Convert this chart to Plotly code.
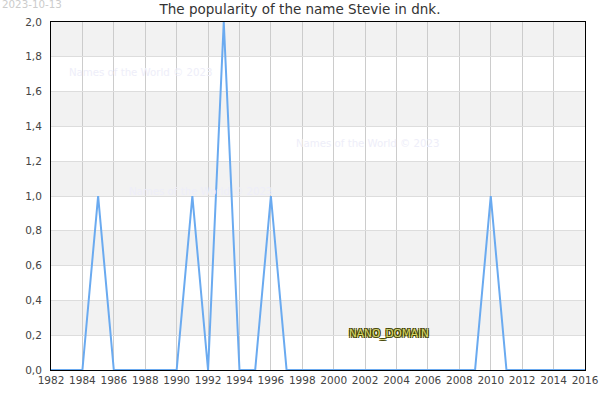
import plotly.graph_objects as go

years = list(range(1982, 2017))
peak_years = [1985, 1991, 1993, 1996, 2010]
peak_values = [1, 1, 2, 1, 1]
peaks = dict(zip(peak_years, peak_values))
counts = [peaks.get(y, 0) for y in years]

title = "The popularity of the name Stevie in dnk."
date_label = "2023-10-13"
watermark = "Names of the World © 2023"
band_lows = [0.2, 0.6, 1.0, 1.4, 1.8]
xtick_years = list(range(1982, 2017, 2))
ytick_values = [i * 0.2 for i in range(11)]

L, R, T, B = 51, 15, 22, 30
PW, PH = 600 - L - R, 400 - T - B

fig = go.Figure()
fig.add_trace(go.Scatter(x=years, y=counts, mode="lines",
                         line=dict(color="#6aaaf0", width=2), hoverinfo="skip"))

shapes = []
for lo in band_lows:
    shapes.append(dict(type="rect", xref="paper", yref="y", x0=0, x1=1, y0=lo, y1=lo + 0.2,
                       fillcolor="#f2f2f2", line=dict(width=0), layer="below"))

wm_font = dict(size=10.2, color="#eeeef9", family="DejaVu Sans")
annotations = [
    dict(text=date_label, xref="paper", yref="paper", x=-L / PW, y=1 + (T - 4) / PH,
         xanchor="left", yanchor="middle", showarrow=False,
         font=dict(size=10.3, color="#cccccc", family="DejaVu Sans")),
    dict(text=watermark, x=1983.0, y=1.71, xanchor="left", yanchor="middle", showarrow=False, font=wm_font),
    dict(text=watermark, x=1997.5, y=1.3, xanchor="left", yanchor="middle", showarrow=False, font=wm_font),
    dict(text=watermark, x=1986.85, y=1.025, xanchor="left", yanchor="middle", showarrow=False, font=wm_font),
    dict(text="NANO_DOMAIN", x=2000.85, y=0.21, xanchor="left", yanchor="middle", showarrow=False,
         font=dict(size=10.5, color="#d6d66a", family="DejaVu Sans",
                   shadow="1px 1px 0 #444400, -1px -1px 0 #444400, 1px -1px 0 #444400, -1px 1px 0 #444400")),
]

fig.update_layout(
    width=600, height=400,
    margin=dict(l=L, r=R, t=T, b=B, autoexpand=False),
    paper_bgcolor="white", plot_bgcolor="white",
    separators=", ",
    showlegend=False,
    title=dict(text=title, x=0.5, xanchor="center", xref="container", yref="container",
               y=1 - 9.5 / 400, yanchor="middle", automargin=False,
               font=dict(size=13.5, color="#333333", family="DejaVu Sans")),
    font=dict(family="DejaVu Sans", size=10.5, color="#444444"),
    xaxis=dict(range=[1982, 2016], tickmode="array", tickvals=xtick_years,
               ticktext=[str(y) for y in xtick_years], automargin=False, tickangle=0,
               showgrid=True, gridcolor="#cccccc", gridwidth=1,
               showline=True, linecolor="black", linewidth=1, mirror=True,
               ticks="", zeroline=False, tickfont=dict(size=10.5, color="#444444")),
    yaxis=dict(range=[0, 2], tickmode="array", tickvals=ytick_values, automargin=False,
               tickformat=".1f", ticklabelstandoff=6,
               showgrid=True, gridcolor="#dddddd", gridwidth=1,
               showline=True, linecolor="black", linewidth=1, mirror=True,
               ticks="", zeroline=False, tickfont=dict(size=10.5, color="#444444")),
    shapes=shapes,
    annotations=annotations,
)

fig.write_html("out.html", config={"displayModeBar": False},
               post_script="document.body.style.margin='0';")
